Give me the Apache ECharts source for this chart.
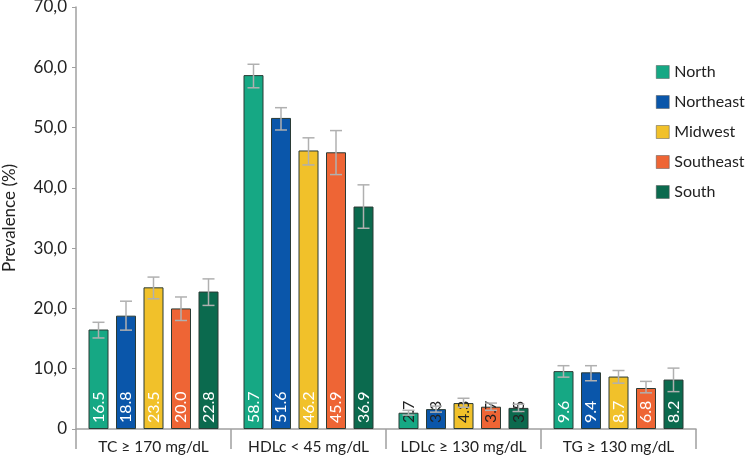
<!DOCTYPE html>
<html><head><meta charset="utf-8">
<script src="https://cdn.jsdelivr.net/npm/echarts@6/dist/echarts.min.js"></script>
<style>html,body{margin:0;padding:0;background:#fff}#c{width:750px;height:461px}</style>
</head><body><div id="c"></div>
<script>
const categories = ['TC ≥ 170 mg/dL', 'HDLc < 45 mg/dL', 'LDLc ≥ 130 mg/dL', 'TG ≥ 130 mg/dL'];
const regions = ['North', 'Northeast', 'Midwest', 'Southeast', 'South'];
const colors = ['#16a884', '#0a56aa', '#f1c12a', '#ee6535', '#0b6a4e'];
const north = [16.5, 58.7, 2.7, 9.6];
const northeast = [18.8, 51.6, 3.3, 9.4];
const midwest = [23.5, 46.2, 4.3, 8.7];
const southeast = [20.0, 45.9, 3.7, 6.8];
const south = [22.8, 36.9, 3.5, 8.2];
const northLow = [15.1, 56.6, 2.3, 8.6], northHigh = [17.7, 60.5, 3.1, 10.5];
const northeastLow = [16.4, 49.6, 2.8, 8.0], northeastHigh = [21.2, 53.3, 3.8, 10.5];
const midwestLow = [21.6, 43.8, 3.6, 7.6], midwestHigh = [25.2, 48.3, 5.1, 9.7];
const southeastLow = [18.0, 42.2, 3.1, 6.0], southeastHigh = [21.9, 49.5, 4.3, 7.9];
const southLow = [20.5, 33.3, 2.9, 6.2], southHigh = [24.9, 40.5, 4.1, 10.1];
const yTicks = [0, 10, 20, 30, 40, 50, 60, 70];

const values = [north, northeast, midwest, southeast, south];
const lows = [northLow, northeastLow, midwestLow, southeastLow, southLow];
const highs = [northHigh, northeastHigh, midwestHigh, southeastHigh, southHigh];
const FONT = 'Lato';
const BAR_W = 20, BAR_GAP = 7.5;

const series = [];
regions.forEach((r, i) => {
  series.push({
    name: r, type: 'bar', barWidth: BAR_W, barGap: (BAR_GAP / BAR_W * 100) + '%',
    itemStyle: { color: colors[i], borderColor: '#2b3b35', borderWidth: 1 },
    data: values[i].map((v, k) => ({
      value: v,
      label: { color: k === 2 ? '#222' : '#fff' }
    })),
    label: {
      show: true, position: 'insideBottom', rotate: 90, align: 'left', verticalAlign: 'middle',
      distance: 6, fontFamily: FONT, fontSize: 16,
      formatter: p => p.value.toFixed(1)
    },
    z: 2
  });
});
regions.forEach((r, i) => {
  series.push({
    type: 'custom', name: r + ' err', z: 5, silent: true,
    data: categories.map((c, k) => [k, lows[i][k], highs[i][k]]),
    renderItem: (params, api) => {
      const k = api.value(0);
      const lo = api.coord([k, api.value(1)]);
      const hi = api.coord([k, api.value(2)]);
      const x = lo[0] + (i - 2) * (BAR_W + BAR_GAP);
      const cap = 6;
      const st = { stroke: '#b0b0b0', lineWidth: 1.5 };
      return { type: 'group', children: [
        { type: 'line', shape: { x1: x, y1: lo[1], x2: x, y2: hi[1] }, style: st },
        { type: 'line', shape: { x1: x - cap, y1: lo[1], x2: x + cap, y2: lo[1] }, style: st },
        { type: 'line', shape: { x1: x - cap, y1: hi[1], x2: x + cap, y2: hi[1] }, style: st }
      ]};
    }
  });
});

const chart = echarts.init(document.getElementById('c'));
chart.setOption({
  animation: false,
  textStyle: { fontFamily: FONT },
  grid: { left: 76, right: 54, top: 7, bottom: 32, containLabel: false, outerBoundsMode: 'none' },
  legend: {
    orient: 'vertical', left: 651, top: 59, itemWidth: 13, itemHeight: 13, itemGap: 14,
    data: regions, icon: 'rect',
    itemStyle: { borderColor: '#555', borderWidth: 0.5 },
    textStyle: { fontFamily: FONT, fontSize: 16, color: '#222' }
  },
  xAxis: {
    type: 'category', data: categories,
    axisLine: { lineStyle: { color: '#a0a0a0', width: 1.5 } },
    axisTick: { show: true, length: 20, lineStyle: { color: '#a0a0a0', width: 1.5 } },
    axisLabel: { interval: 0, fontFamily: FONT, fontSize: 15.5, color: '#222', margin: 10 }
  },
  yAxis: {
    type: 'value', min: 0, max: 70, interval: 10,
    name: 'Prevalence (%)', nameLocation: 'middle', nameGap: 58, nameRotate: 90,
    nameTextStyle: { fontFamily: FONT, fontSize: 17, color: '#222' },
    axisLine: { show: true, lineStyle: { color: '#a0a0a0', width: 1.5 } },
    axisTick: { show: true, length: 4, lineStyle: { color: '#a0a0a0' } },
    splitLine: { show: false },
    axisLabel: {
      fontFamily: FONT, fontSize: 17, color: '#222', margin: 9,
      formatter: v => yTicks.includes(v) ? (v === 0 ? '0' : v.toFixed(1).replace('.', ',')) : ''
    }
  },
  series: series
});
</script></body></html>
